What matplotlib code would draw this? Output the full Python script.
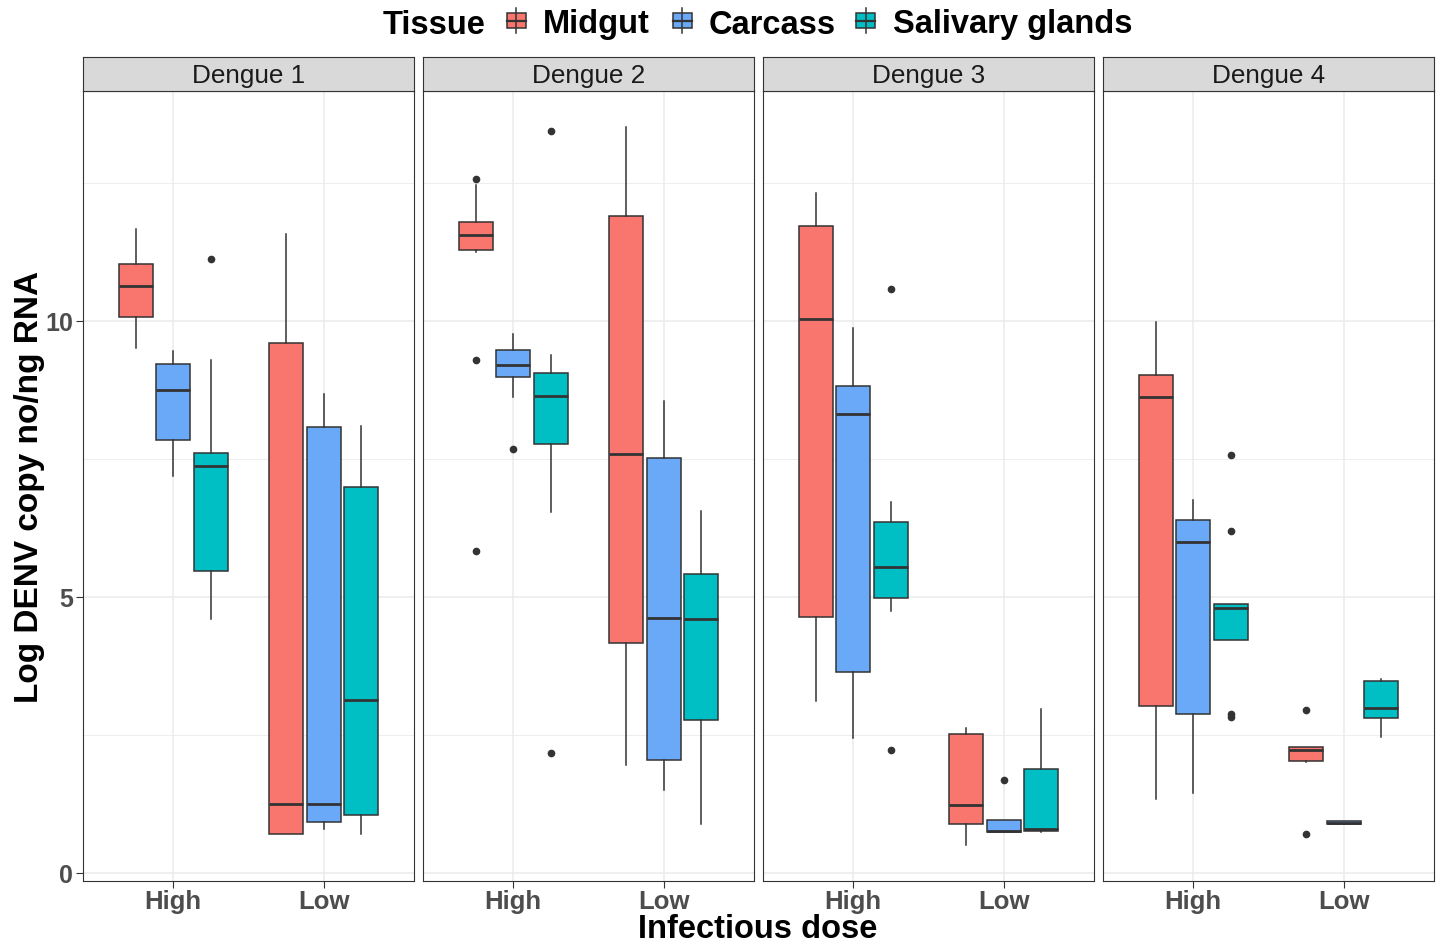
import matplotlib
matplotlib.use('Agg')
import matplotlib.pyplot as plt
from matplotlib.patches import Rectangle
from matplotlib.lines import Line2D

plt.rcParams['font.family'] = ['Liberation Sans', 'DejaVu Sans']

# data, order: D1 High, D1 Low, D2 High, D2 Low, D3 High, D3 Low, D4 High, D4 Low
serotypes = ['Dengue 1', 'Dengue 2', 'Dengue 3', 'Dengue 4']
doses = ['High', 'Low']
tissues = ['Midgut', 'Carcass', 'Salivary glands']

midgut_whislo = [9.51, 0.71, 11.25, 1.96, 3.11, 0.50, 1.33, 2.00]
midgut_q1 = [10.06, 0.71, 11.28, 4.16, 4.63, 0.89, 3.02, 2.02]
midgut_med = [10.62, 1.24, 11.56, 7.58, 10.03, 1.22, 8.62, 2.22]
midgut_q3 = [11.03, 9.60, 11.79, 11.90, 11.71, 2.51, 9.01, 2.28]
midgut_whishi = [11.66, 11.57, 12.46, 13.51, 12.31, 2.62, 9.97, 2.28]
midgut_out = [[], [], [12.56, 9.28, 5.83], [], [], [], [], [2.94, 0.71]]

carcass_whislo = [7.19, 0.79, 8.62, 1.49, 2.44, 0.73, 1.45, 0.88]
carcass_q1 = [7.83, 0.91, 8.98, 2.05, 3.63, 0.73, 2.87, 0.88]
carcass_med = [8.75, 1.24, 9.19, 4.62, 8.31, 0.75, 5.99, 0.90]
carcass_q3 = [9.22, 8.08, 9.46, 7.52, 8.82, 0.96, 6.39, 0.93]
carcass_whishi = [9.45, 8.68, 9.76, 8.54, 9.86, 0.96, 6.76, 0.93]
carcass_out = [[], [], [7.68], [], [], [1.68], [], []]

salivary_whislo = [4.60, 0.71, 6.54, 0.89, 4.74, 0.73, 4.21, 2.45]
salivary_q1 = [5.46, 1.05, 7.77, 2.76, 4.97, 0.76, 4.21, 2.80]
salivary_med = [7.37, 3.13, 8.63, 4.60, 5.53, 0.80, 4.79, 2.99]
salivary_q3 = [7.61, 6.98, 9.05, 5.41, 6.36, 1.88, 4.86, 3.47]
salivary_whishi = [9.28, 8.09, 9.38, 6.56, 6.71, 2.96, 4.86, 3.50]
salivary_out = [[11.11], [], [13.44, 2.16], [], [10.57, 2.23], [], [7.57, 6.19, 2.87, 2.82], []]

tissue_stats = [
    (midgut_whislo, midgut_q1, midgut_med, midgut_q3, midgut_whishi, midgut_out),
    (carcass_whislo, carcass_q1, carcass_med, carcass_q3, carcass_whishi, carcass_out),
    (salivary_whislo, salivary_q1, salivary_med, salivary_q3, salivary_whishi, salivary_out),
]
colors = ['#F8766D', '#6AA8F8', '#00BFC4']
offsets = [-0.25, 0.0, 0.25]
edge = '#333333'

W, H = 1442, 945
fig = plt.figure(figsize=(W / 100, H / 100), dpi=100)


def fx(px):
    return px / W


def fy(py):
    return 1 - py / H


panel_left = [83, 423, 763, 1103]
panel_w = 331

for i, name in enumerate(serotypes):
    ax = fig.add_axes([fx(panel_left[i]), fy(882), panel_w / W, 790 / H])
    for t in range(3):
        lo, q1, med, q3, hi, out = tissue_stats[t]
        stats = []
        for d in range(2):
            k = i * 2 + d
            stats.append(dict(whislo=lo[k], q1=q1[k], med=med[k], q3=q3[k],
                              whishi=hi[k], fliers=out[k]))
        ax.bxp(stats, positions=[1 + offsets[t], 2 + offsets[t]], widths=0.225,
               patch_artist=True, showcaps=False, manage_ticks=False,
               boxprops=dict(facecolor=colors[t], edgecolor=edge, linewidth=1.1),
               medianprops=dict(color=edge, linewidth=2.0),
               whiskerprops=dict(color=edge, linewidth=1.1),
               flierprops=dict(marker='o', markerfacecolor=edge, markeredgecolor=edge,
                               markersize=4.5))
    ax.set_xlim(0.4, 2.6)
    ax.set_ylim(-0.15, 14.16)
    ax.set_xticks([1, 2])
    ax.set_xticklabels(doses, fontweight='bold')
    ax.set_yticks([0, 5, 10])
    ax.set_yticks([2.5, 7.5, 12.5], minor=True)
    ax.grid(which='major', color='#EBEBEB', linewidth=1.1)
    ax.grid(which='minor', axis='y', color='#EBEBEB', linewidth=0.6)
    ax.set_axisbelow(True)
    ax.tick_params(axis='x', which='major', length=5, width=0.8, color=edge,
                   labelcolor='#4D4D4D', labelsize=18.5, pad=1)
    ax.tick_params(which='minor', length=0)
    if i == 0:
        ax.set_yticklabels(['0', '5', '10'], fontweight='bold')
        ax.tick_params(axis='y', which='major', length=5, width=0.8, color=edge,
                       labelcolor='#4D4D4D', labelsize=18, pad=2)
    else:
        ax.tick_params(axis='y', which='major', length=0, labelleft=False)
    for s in ax.spines.values():
        s.set_color(edge)
        s.set_linewidth(0.8)

    # facet strip
    st = fig.add_axes([fx(panel_left[i]), fy(92), panel_w / W, 34 / H])
    st.set_facecolor('#D9D9D9')
    st.set_xticks([])
    st.set_yticks([])
    for s in st.spines.values():
        s.set_color(edge)
        s.set_linewidth(0.8)
    st.text(0.5, 0.47, name, ha='center', va='center', fontsize=18.8,
            color='#1A1A1A', transform=st.transAxes)

# legend on top
fig.text(fx(383), fy(25), 'Tissue', ha='left', va='center', fontsize=23.5,
         fontweight='bold')
key_x = [516, 682, 866]
label_x = [543, 709, 893]
for t, tissue in enumerate(tissues):
    cx = key_x[t]
    fig.add_artist(Line2D([fx(cx), fx(cx)], [fy(9), fy(34)], color=edge,
                          linewidth=1.1, transform=fig.transFigure))
    fig.add_artist(Rectangle((fx(cx - 9.5), fy(29)), 19 / W, 15 / H,
                             facecolor=colors[t], edgecolor=edge, linewidth=1.1,
                             transform=fig.transFigure))
    fig.add_artist(Line2D([fx(cx - 9.5), fx(cx + 9.5)], [fy(21.5), fy(21.5)],
                          color=edge, linewidth=1.6, transform=fig.transFigure))
    fig.text(fx(label_x[t]), fy(25), tissue, ha='left', va='center',
             fontsize=23.5, fontweight='bold')

fig.text(fx(758), fy(930), 'Infectious dose', ha='center', va='center',
         fontsize=23.5, fontweight='bold')
fig.text(fx(30), fy(487), 'Log DENV copy no/ng RNA', ha='center', va='center',
         rotation=90, fontsize=24, fontweight='bold')

fig.savefig('out.png', dpi=100, facecolor='white')
